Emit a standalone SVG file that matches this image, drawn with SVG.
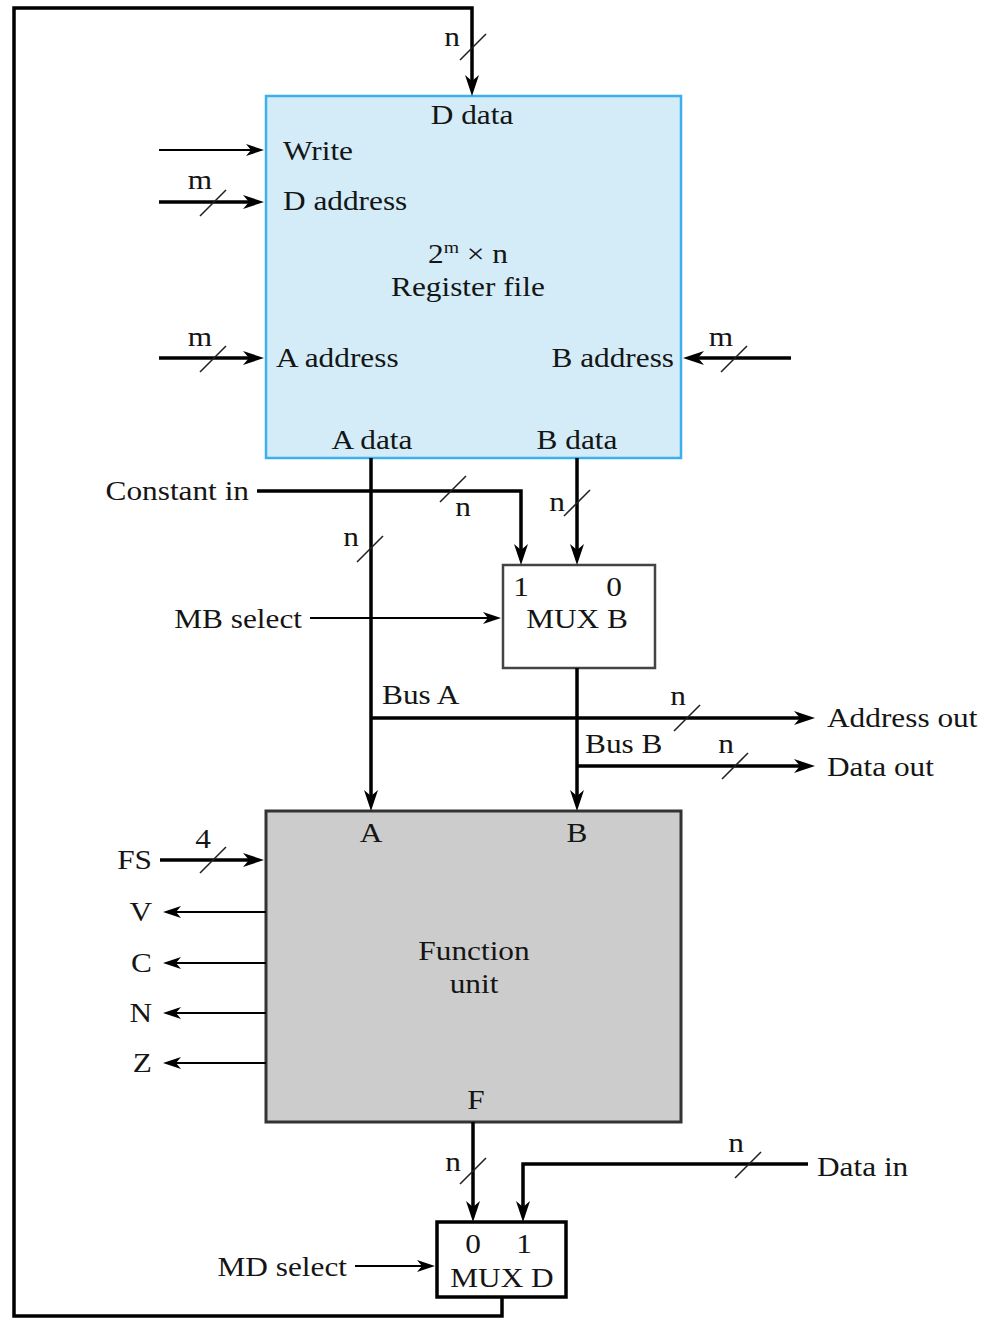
<svg xmlns="http://www.w3.org/2000/svg" width="993" height="1319" viewBox="0 0 993 1319">
<style>
text{font-family:"Liberation Serif","Times New Roman",serif;font-size:27px;fill:#151515}
.m{text-anchor:middle}
.e{text-anchor:end}
.thick{stroke:#000;stroke-width:3.5;fill:none}
.thin{stroke:#000;stroke-width:1.8;fill:none}
.sl{stroke:#222;stroke-width:1.6;fill:none}
.ta{marker-end:url(#ah)}
.na{marker-end:url(#ahs)}
</style>
<defs>
<marker id="ah" viewBox="0 -7 21 14" markerWidth="21" markerHeight="14" refX="15" refY="0" orient="auto" markerUnits="userSpaceOnUse"><path d="M0,-7 L21,0 L0,7 L6,0 Z" fill="#000"/></marker>
<marker id="ahs" viewBox="0 -6 18 12" markerWidth="18" markerHeight="12" refX="14" refY="0" orient="auto" markerUnits="userSpaceOnUse"><path d="M0,-6 L18,0 L0,6 L5,0 Z" fill="#000"/></marker>
</defs>

<g id="register-file">
<rect x="266" y="96" width="415" height="362" fill="#d3ecf8" stroke="#3bb0ec" stroke-width="2.5"/>
<text class="m" transform="translate(472 124) scale(1.16 1)">D data</text>
<text transform="translate(283 160) scale(1.16 1)">Write</text>
<text transform="translate(283 210) scale(1.16 1)">D address</text>
<text class="m" transform="translate(468 263) scale(1.16 1)">2<tspan font-size="17" dy="-10">m</tspan><tspan dy="10"> × n</tspan></text>
<text class="m" transform="translate(468 296) scale(1.16 1)">Register file</text>
<text transform="translate(276 367) scale(1.16 1)">A address</text>
<text class="e" transform="translate(674 367) scale(1.16 1)">B address</text>
<text class="m" transform="translate(372 449) scale(1.16 1)">A data</text>
<text class="m" transform="translate(577 449) scale(1.16 1)">B data</text>
</g>

<g id="mux-b">
<rect x="503" y="565" width="152" height="103" fill="#fff" stroke="#444" stroke-width="2.5"/>
<text class="m" transform="translate(521 596) scale(1.16 1)">1</text>
<text class="m" transform="translate(614 596) scale(1.16 1)">0</text>
<text class="m" transform="translate(577 628) scale(1.16 1)">MUX B</text>
</g>

<g id="function-unit">
<rect x="266" y="811" width="415" height="311" fill="#cccccc" stroke="#333" stroke-width="3"/>
<text class="m" transform="translate(371 842) scale(1.16 1)">A</text>
<text class="m" transform="translate(577 842) scale(1.16 1)">B</text>
<text class="m" transform="translate(474 960) scale(1.16 1)">Function</text>
<text class="m" transform="translate(474 993) scale(1.16 1)">unit</text>
<text class="m" transform="translate(476 1109) scale(1.16 1)">F</text>
</g>

<g id="mux-d">
<rect x="437" y="1222" width="129" height="75" fill="#fff" stroke="#000" stroke-width="3.5"/>
<text class="m" transform="translate(473 1253) scale(1.16 1)">0</text>
<text class="m" transform="translate(524 1253) scale(1.16 1)">1</text>
<text class="m" transform="translate(502 1287) scale(1.16 1)">MUX D</text>
</g>

<g id="labels">
<text class="e" transform="translate(249 500) scale(1.16 1)">Constant in</text>
<text class="e" transform="translate(302 628) scale(1.16 1)">MB select</text>
<text transform="translate(382 704) scale(1.16 1)">Bus A</text>
<text transform="translate(585 753) scale(1.16 1)">Bus B</text>
<text transform="translate(827 727) scale(1.16 1)">Address out</text>
<text transform="translate(827 776) scale(1.16 1)">Data out</text>
<text class="e" transform="translate(152 869) scale(1.16 1)">FS</text>
<text class="e" transform="translate(152 921) scale(1.16 1)">V</text>
<text class="e" transform="translate(152 972) scale(1.16 1)">C</text>
<text class="e" transform="translate(152 1022) scale(1.16 1)">N</text>
<text class="e" transform="translate(152 1072) scale(1.16 1)">Z</text>
<text transform="translate(817 1176) scale(1.16 1)">Data in</text>
<text class="e" transform="translate(347 1276) scale(1.16 1)">MD select</text>
</g>

<g id="connectors">
<!-- feedback loop -->
<path class="thick" d="M502,1297 V1316 H14 V8 H472 V90" marker-end="url(#ah)"/>
<!-- register inputs -->
<line class="thin na" x1="159" y1="150" x2="260" y2="150"/>
<line class="thick ta" x1="159" y1="202" x2="258" y2="202"/>
<line class="thick ta" x1="159" y1="358" x2="258" y2="358"/>
<line class="thick ta" x1="791" y1="358" x2="689" y2="358"/>
<!-- A data / Bus A -->
<line class="thick ta" x1="371" y1="458" x2="371" y2="805"/>
<path class="thick ta" d="M371,718 H809"/>
<!-- B data -->
<line class="thick ta" x1="577" y1="458" x2="577" y2="559"/>
<!-- constant in -->
<path class="thick ta" d="M257,491 H521 V559"/>
<!-- MB select -->
<line class="thin na" x1="310" y1="618" x2="497" y2="618"/>
<!-- Bus B -->
<line class="thick ta" x1="577" y1="668" x2="577" y2="805"/>
<path class="thick ta" d="M577,766 H809"/>
<!-- FS & flags -->
<line class="thick ta" x1="160" y1="860" x2="258" y2="860"/>
<line class="thin na" x1="266" y1="912" x2="167" y2="912"/>
<line class="thin na" x1="266" y1="963" x2="167" y2="963"/>
<line class="thin na" x1="266" y1="1013" x2="167" y2="1013"/>
<line class="thin na" x1="266" y1="1063" x2="167" y2="1063"/>
<!-- F to MUX D -->
<line class="thick ta" x1="473" y1="1122" x2="473" y2="1216"/>
<path class="thick ta" d="M808,1164 H523 V1216"/>
<!-- MD select -->
<line class="thin na" x1="355" y1="1266" x2="431" y2="1266"/>
<!-- bus width slashes -->
<line class="sl" x1="460" y1="60" x2="486" y2="34"/>
<line class="sl" x1="200" y1="216" x2="226" y2="190"/>
<line class="sl" x1="200" y1="372" x2="226" y2="346"/>
<line class="sl" x1="721" y1="372" x2="747" y2="346"/>
<line class="sl" x1="440" y1="502" x2="466" y2="476"/>
<line class="sl" x1="564" y1="516" x2="590" y2="490"/>
<line class="sl" x1="357" y1="562" x2="383" y2="536"/>
<line class="sl" x1="674" y1="731" x2="700" y2="705"/>
<line class="sl" x1="722" y1="779" x2="748" y2="753"/>
<line class="sl" x1="200" y1="873" x2="226" y2="847"/>
<line class="sl" x1="460" y1="1184" x2="486" y2="1158"/>
<line class="sl" x1="735" y1="1178" x2="761" y2="1152"/>
</g>

<g id="bus-widths">
<text class="m" transform="translate(452 46) scale(1.16 1)">n</text>
<text class="m" transform="translate(200 189) scale(1.16 1)">m</text>
<text class="m" transform="translate(200 346) scale(1.16 1)">m</text>
<text class="m" transform="translate(721 346) scale(1.16 1)">m</text>
<text class="m" transform="translate(463 516) scale(1.16 1)">n</text>
<text class="m" transform="translate(557 511) scale(1.16 1)">n</text>
<text class="m" transform="translate(351 546) scale(1.16 1)">n</text>
<text class="m" transform="translate(678 705) scale(1.16 1)">n</text>
<text class="m" transform="translate(726 753) scale(1.16 1)">n</text>
<text class="m" transform="translate(203 848) scale(1.16 1)">4</text>
<text class="m" transform="translate(453 1171) scale(1.16 1)">n</text>
<text class="m" transform="translate(736 1152) scale(1.16 1)">n</text>
</g>
</svg>
